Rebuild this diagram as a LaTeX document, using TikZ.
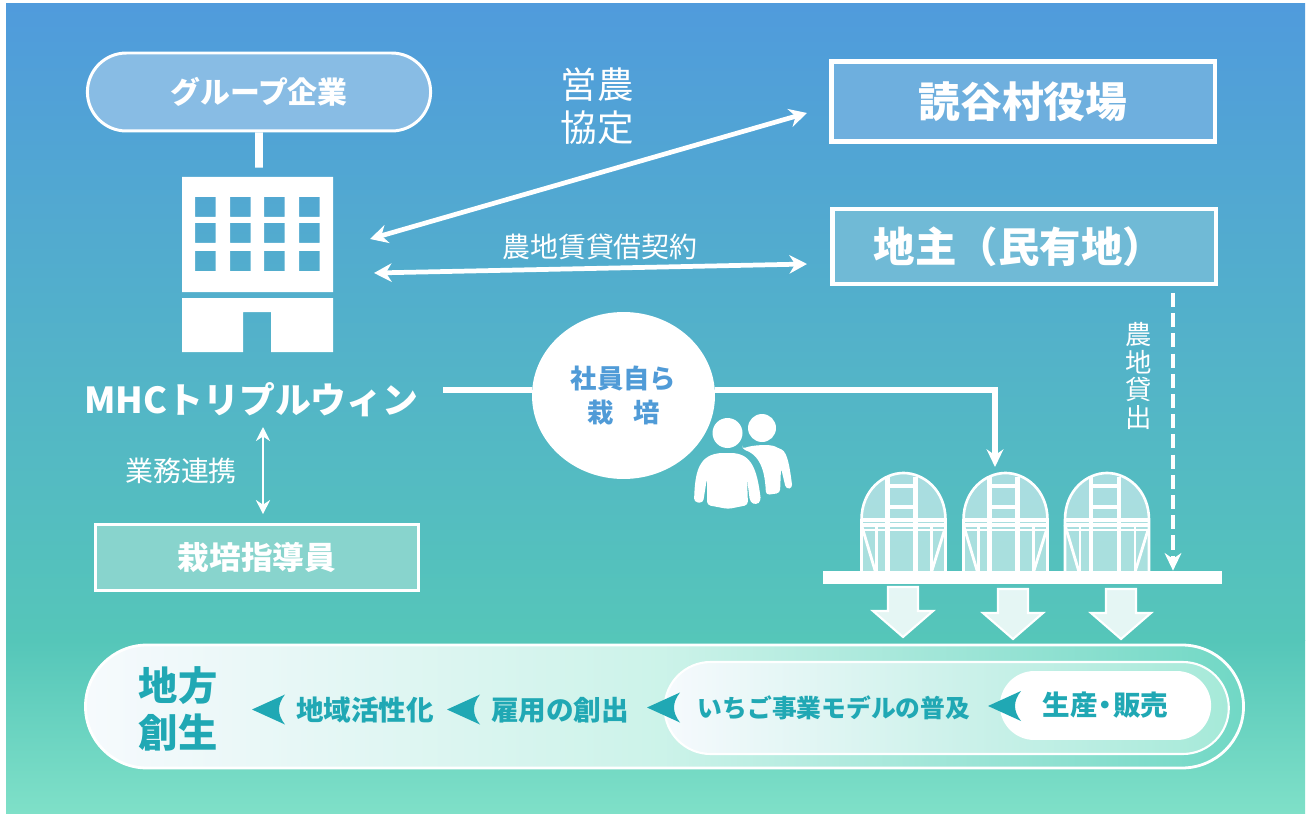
\documentclass[tikz,border=0pt]{standalone}
\usepackage{fontspec}
\setmainfont{Noto Sans CJK JP}
\usetikzlibrary{arrows.meta, shapes.misc, shapes.geometric}
\definecolor{skytop}{RGB}{80,155,220}
\definecolor{seamid}{RGB}{85,198,185}
\definecolor{seabot}{RGB}{127,224,200}
\definecolor{tealtxt}{RGB}{32,168,180}
\definecolor{bluetxt}{RGB}{80,155,215}
\tikzset{
  box/.style = {shape=rectangle, draw=white, line width=2.8pt, align=center,
                text=white, font=\fontsize{23.6}{28}\bfseries},
  company/.style = {rounded rectangle, draw=white, line width=1.7pt, fill={rgb,255:red,136;green,188;blue,228},
                text=white, font=\fontsize{17}{20}\bfseries, minimum width=7.1cm, minimum height=1.56cm},
  plain/.style = {text=white, align=center, inner sep=0pt},
  step text/.style = {text=tealtxt, inner sep=0pt, align=center, font=\fontsize{15.7}{18}\bfseries},
  link/.style = {draw=white, line width=2.7pt},
  both/.style = {link, {Stealth[length=10pt,width=10.5pt]}-{Stealth[length=10pt,width=10.5pt]}},
  to/.style = {link, -{Stealth[length=10pt,width=9.5pt]}},
  notch/.style = {fill=tealtxt},
  beam/.style = {draw=white, line width=2.5pt},
  slat/.style = {draw=white, line width=1.3pt}
}
\begin{document}
\begin{tikzpicture}[x=0.02cm, y=-0.02cm]
  \useasboundingbox (0,0) rectangle (1308,814);
  \shade[top color=skytop, bottom color=seamid] (6,4) rectangle (1305,640.5);
  \shade[top color=seamid, bottom color=seabot] (6,640) rectangle (1305,814);

  % top left
  \node[company] (group) at (259,92) {グループ企業};
  \node[inner sep=0pt, minimum width=3.02cm, minimum height=3.5cm] (bldg) at (257.5,264.5) {};
  \fill[white, even odd rule] (182,177) rectangle (333,292)
    \foreach \wx in {195,230,264,299} {
      \foreach \wy in {197,223,251} {
        (\wx,\wy) rectangle ++(20.5,20)
      }
    };
  \fill[white] (182,298) -- (333,298) -- (333,352) -- (271,352) -- (271,312) -- (243,312) -- (243,352) -- (182,352) -- cycle;
  \draw[link, line width=4.4pt, shorten >=0.18cm] (group) -- (group |- bldg.north);
  \node[plain, font=\fontsize{20.4}{24}\bfseries] (mhc) at (251.5,400) {MHCトリプルウィン};

  % right boxes
  \node[box, fill={rgb,255:red,110;green,175;blue,222}, font=\fontsize{23.8}{28}\bfseries,
        minimum width=7.68cm, minimum height=1.6cm] (office) at (1023,101.5) {読谷村役場};
  \node[box, fill={rgb,255:red,112;green,186;blue,214}, minimum width=7.68cm, minimum height=1.5cm] (land) at (1024,246.5) {地主（民有地）\hspace{0.2cm}};

  \coordinate (bldgA) at (370,239);
  \coordinate (officeA) at (807,113);
  \coordinate (bldgB) at (374,273);
  \coordinate (landB) at (807,264);
  \draw[both] (bldgA) -- (officeA);
  \draw[both] (bldgB) -- (landB);
  \node[plain, font=\fontsize{20.8}{24.4}\selectfont] (pact) at (597,106) {営農\\協定};
  \node[plain, font=\fontsize{15.9}{19}\selectfont] (lease) at (600,247) {農地賃貸借契約};

  % grower
  \node[ellipse, fill=white, inner sep=0pt, minimum width=3.66cm, minimum height=3.34cm, align=center, text=bluetxt,
        font=\fontsize{15}{19.3}\bfseries] (self) at (623.5,395.5) {社員自ら\\栽\kern11pt 培};
  \coordinate (mhcEnd) at (443,390);
  \coordinate (houseTop) at (995,467);
  \draw[link, line width=3pt] (mhcEnd) -- (mhcEnd -| self.west);
  \draw[to, line width=3pt] (mhcEnd -| self.east) -| (houseTop);

  % staff
  \fill[white] (727.5,433) circle (15);
  \fill[white] (762,428) circle (14);
  \fill[white, rounded corners=2pt] (694,502) .. controls (695,475) and (697,453) .. (727,453)
    .. controls (752,453) and (757,470) .. (761,501) -- (756,505) -- (750,502) -- (747,478) -- (748,505)
    -- (728,509) -- (707,505) -- (707,478) -- (703,503) -- cycle;
  \fill[white, rounded corners=2pt] (742,449) .. controls (752,445) and (770,444) .. (778,448)
    .. controls (788,452) and (790,470) .. (792.5,488) -- (786,489) -- (781,468) -- (780,493)
    -- (766,495) .. controls (765,475) and (762,456) .. (742,449) -- cycle;

  % advisor
  \node[plain, font=\fontsize{15.9}{19}\selectfont] (biz) at (181,471) {業務連携};
  \node[box, fill={rgb,255:red,136;green,212;blue,205}, line width=1.5pt, font=\fontsize{18}{22}\bfseries,
        minimum width=6.46cm, minimum height=1.32cm] (coach) at (257,557.5) {栽培指導員};
  \coordinate (mhcLow) at (263,427);
  \draw[link, line width=1.2pt, shorten >=0.18cm, {Stealth[length=8pt,width=8pt]}-{Stealth[length=8pt,width=8pt]}] (mhcLow) -- (mhcLow |- coach.north);

  % houses
  \foreach \hx in {903.5,1005.5,1107} {
    \begin{scope}[shift={(\hx,0)}]
      \fill[white, opacity=.5] (-42,572) -- (-42,520) .. controls (-42,490) and (-20,473) .. (0,473)
        .. controls (20,473) and (42,490) .. (42,520) -- (42,572) -- cycle;
      \draw[slat, line width=1.5pt] (-42,572) -- (-42,520) .. controls (-42,490) and (-20,473) .. (0,473)
        .. controls (20,473) and (42,490) .. (42,520) -- (42,572);
      \draw[beam] (-16,477) -- (-16,572);
      \draw[beam] (12,477) -- (12,572);
      \draw[slat, line width=1.8pt] (-16,486) -- (12,486) (-16,507) -- (12,507) (-42,520) -- (42,520);
      \draw[slat, line width=1.8pt] (-42,525) -- (42,525);
      \draw[slat] (-42,530) -- (42,530) (-27,525) -- (-27,572) (28,525) -- (28,572);
      \draw[slat, line width=1.6pt] (-42,525) -- (-28,572) (41,530) -- (28,572);
    \end{scope}
  }
  \node[fill=white, inner sep=0pt, minimum width=7.98cm, minimum height=0.26cm] (shelf) at (1022.5,577.5) {};
  \coordinate (landEnd) at (1173,285);
  \draw[to, line width=2.4pt, dash pattern=on 8pt off 3.5pt, shorten <=0.16cm] (landEnd) -- (landEnd |- shelf.north);
  \node[plain, font=\fontsize{15}{15.6}\selectfont] (loan) at (1139,376) {農\\地\\貸\\出};

  % down arrows
  \foreach \ax/\ay in {903/587,1013/589,1121/589} {
    \draw[white, line width=1.2pt, fill=white, fill opacity=.85] (\ax-15,\ay) -- (\ax+15,\ay) -- (\ax+15,\ay+24)
      -- (\ax+30,\ay+24) -- (\ax,\ay+50) -- (\ax-30,\ay+24) -- (\ax-15,\ay+24) -- cycle;
  }

  % bottom band
  \node[rounded rectangle, draw=white, line width=1.6pt, left color=white!95!skytop, right color=seabot!85!tealtxt,
        middle color=white!60!seabot, minimum width=23.4cm, minimum height=2.46cm] (band) at (664.5,706.5) {};
  \node[rounded rectangle, draw=white, line width=1.2pt, left color=white!95!skytop, right color=seabot!70!white,
        minimum width=11.52cm, minimum height=1.84cm] (model) at (946.7,708) {};
  \node[rounded rectangle, fill=white, minimum width=4.46cm, minimum height=1.38cm] (sales) at (1105.5,705.5) {};

  \node[step text, font=\fontsize{22.4}{27.2}\bfseries] (goal) at (178,709) {地方\\創生};
  \node[step text] (region) at (365,710) {地域活性化};
  \node[step text] (jobs) at (560,710) {雇用の創出};
  \node[step text, font=\fontsize{14.1}{18}\bfseries] (spread) at (834,708) {いちご事業モデルの普及};
  \node[step text] (sell) at (1105.5,705) {生産\kern-3.5pt・\kern-3.5pt販売};

  \foreach \nx/\ny in {252/709.5,447/709.5,647/707.5,988/706} {
    \fill[notch] (\nx,\ny) -- (\nx+33,\ny-15) .. controls (\nx+25,\ny-5) and (\nx+25,\ny+5) .. (\nx+33,\ny+15) -- cycle;
  }
\end{tikzpicture}
\end{document}
